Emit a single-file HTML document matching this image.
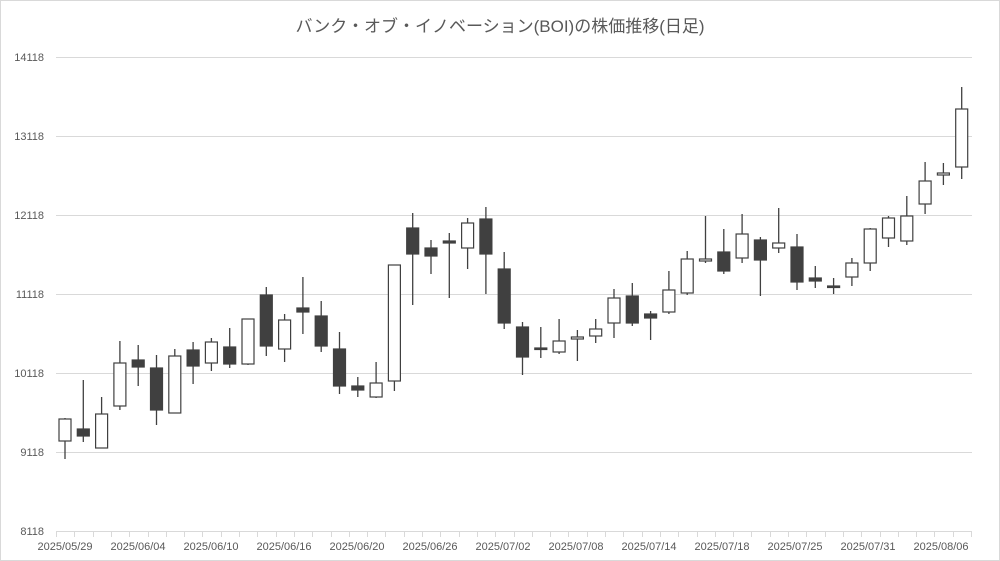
<!DOCTYPE html>
<html><head><meta charset="utf-8"><style>
html,body{margin:0;padding:0;background:#fff}
svg{display:block;font-family:"Liberation Sans","Noto Sans CJK JP",sans-serif}
</style></head><body>
<svg id="c" width="1000" height="561" viewBox="0 0 1000 561" xmlns="http://www.w3.org/2000/svg">
<rect x="0.5" y="0.5" width="999" height="560" fill="#fff" stroke="#d9d9d9"/>
<text x="500" y="32" text-anchor="middle" font-size="17" fill="#595959">バンク・オブ・イノベーション(BOI)の株価推移(日足)</text>
<g stroke="#d9d9d9" stroke-width="1">
<line x1="56" x2="972" y1="57.5" y2="57.5"/>
<line x1="56" x2="972" y1="136.5" y2="136.5"/>
<line x1="56" x2="972" y1="215.5" y2="215.5"/>
<line x1="56" x2="972" y1="294.5" y2="294.5"/>
<line x1="56" x2="972" y1="373.5" y2="373.5"/>
<line x1="56" x2="972" y1="452.5" y2="452.5"/>
<line x1="56" x2="972" y1="531.5" y2="531.5"/>
</g>
<g font-size="11" fill="#595959" text-anchor="end">
<text x="44" y="61">14118</text>
<text x="44" y="140">13118</text>
<text x="44" y="219">12118</text>
<text x="44" y="298">11118</text>
<text x="44" y="377">10118</text>
<text x="44" y="456">9118</text>
<text x="44" y="535">8118</text>
</g>
<g font-size="11" fill="#595959" text-anchor="middle">
<text x="65" y="550">2025/05/29</text>
<text x="138" y="550">2025/06/04</text>
<text x="211" y="550">2025/06/10</text>
<text x="284" y="550">2025/06/16</text>
<text x="357" y="550">2025/06/20</text>
<text x="430" y="550">2025/06/26</text>
<text x="503" y="550">2025/07/02</text>
<text x="576" y="550">2025/07/08</text>
<text x="649" y="550">2025/07/14</text>
<text x="722" y="550">2025/07/18</text>
<text x="795" y="550">2025/07/25</text>
<text x="868" y="550">2025/07/31</text>
<text x="941" y="550">2025/08/06</text>
</g>
<g id="ticks" stroke="#d9d9d9"></g>
<g id="cand"></g>
</svg>
<script>
var d=[["W",418,419,441,459],["B",380,429,436,442],["W",397,414,448,448],["W",341,363,406,410],["B",345,360,367,386],["B",355,368,410,425],["W",349,356,413,413],["B",342,350,366,384],["W",338,342,363,371],["B",328,347,364,368],["W",319,319,364,365],["B",287,295,346,356],["W",314,320,349,362],["B",277,308,312,334],["B",301,316,346,352],["B",332,349,386,394],["B",377,386,390,397],["W",362,383,397,398],["W",265,265,381,391],["B",213,228,254,305],["B",240,248,256,274],["B",233,241,243,298],["W",218,223,248,269],["B",207,219,254,294],["B",252,269,323,329],["B",322,327,357,375],["B",327,348,349,358],["W",319,341,352,354],["W",330,337,339,361],["W",319,329,336,343],["W",289,298,323,338],["B",283,296,323,326],["B",311,314,318,340],["W",271,290,312,314],["W",251,259,293,295],["W",216,259,261,263],["B",229,252,271,274],["W",214,234,258,263],["B",237,240,260,296],["W",208,243,248,253],["B",234,247,282,290],["B",266,278,281,288],["B",278,286,287,294],["W",258,263,277,286],["W",228,229,263,271],["W",216,218,238,247],["W",196,216,241,245],["W",162,181,204,214],["W",163,173,175,185],["W",87,109,167,179]];
var ns="http://www.w3.org/2000/svg",g=document.getElementById("cand"),t=document.getElementById("ticks");
function el(p,n,a){var e=document.createElementNS(ns,n);for(var k in a)e.setAttribute(k,a[k]);p.appendChild(e);}
for(var i=0;i<=50;i++){var x=Math.round(56+18.3*i)+0.5;el(t,"line",{x1:x,x2:x,y1:531,y2:537});}
d.forEach(function(c,i){var x=65+18.3*i;
el(g,"line",{x1:x,x2:x,y1:c[1],y2:c[4],stroke:"#404040","stroke-width":1.3});
var h=Math.max(c[3]-c[2],1.5);
el(g,"rect",{x:x-6,y:c[2],width:12,height:h,fill:c[0]=="B"?"#404040":"#fff",stroke:"#404040","stroke-width":1.2});});
</script>
</body></html>
